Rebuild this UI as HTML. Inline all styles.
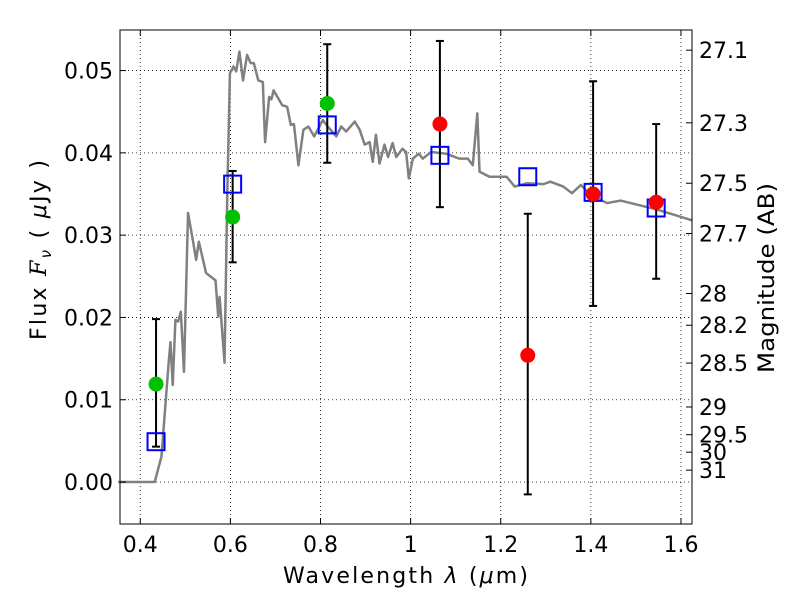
<!DOCTYPE html>
<html><head><meta charset="utf-8">
<style>
html,body{margin:0;padding:0;background:#fff;}
svg text{font-family:"DejaVu Sans","Liberation Sans",sans-serif;fill:#000;}
</style></head>
<body>
<svg id="chart" width="800" height="600" xmlns="http://www.w3.org/2000/svg"></svg>
<script>
const specLam=[0.351,0.432,0.447,0.463,0.467,0.472,0.478,0.484,0.490,0.497,0.506,0.516,0.524,0.530,0.546,0.567,0.573,0.576,0.587,0.593,0.599,0.607,0.613,0.620,0.628,0.637,0.645,0.652,0.662,0.672,0.677,0.686,0.691,0.696,0.715,0.726,0.734,0.741,0.751,0.762,0.773,0.786,0.805,0.816,0.835,0.846,0.857,0.876,0.887,0.898,0.909,0.916,0.923,0.931,0.942,0.950,0.960,0.968,0.982,0.990,0.996,1.005,1.018,1.027,1.045,1.079,1.108,1.127,1.138,1.148,1.153,1.175,1.213,1.231,1.257,1.295,1.310,1.339,1.358,1.378,1.399,1.436,1.466,1.548,1.6245];
const specFlux=[0,0,0.0031,0.0145,0.0170,0.0118,0.0197,0.0195,0.0207,0.0134,0.0327,0.0296,0.0270,0.0292,0.0254,0.0245,0.0201,0.0225,0.0145,0.0347,0.0497,0.0505,0.0499,0.0523,0.0488,0.0519,0.0509,0.0509,0.0488,0.0486,0.0413,0.0468,0.0465,0.0476,0.0458,0.0456,0.0434,0.0435,0.0385,0.0428,0.0432,0.0420,0.0440,0.0432,0.0420,0.0432,0.0426,0.0438,0.0428,0.0410,0.0413,0.0389,0.0422,0.0387,0.0410,0.0395,0.0412,0.0395,0.0405,0.0401,0.0369,0.0393,0.0399,0.0393,0.0401,0.0399,0.0393,0.0393,0.0385,0.0448,0.0377,0.0371,0.0371,0.0359,0.0363,0.0362,0.0365,0.0359,0.0351,0.0361,0.0349,0.0339,0.0342,0.0331,0.0318];
const greenLam=[0.435,0.605,0.815];
const greenFlux=[0.0119,0.0322,0.0460];
const greenErrHi=[0.0198,0.0378,0.0532];
const greenErrLo=[0.0043,0.0267,0.0388];
const redLam=[1.065,1.26,1.405,1.545];
const redFlux=[0.0435,0.0154,0.0350,0.0340];
const redErrHi=[0.0536,0.0326,0.0487,0.0435];
const redErrLo=[0.0334,-0.0015,0.0214,0.0247];
const modelLam=[0.435,0.605,0.815,1.065,1.26,1.405,1.545];
const modelFlux=[0.0049,0.0362,0.0434,0.0397,0.0371,0.0352,0.0333];
const xTicks=[0.4,0.6,0.8,1.0,1.2,1.4,1.6];
const xTickLabels=["0.4","0.6","0.8","1","1.2","1.4","1.6"];
const yTicks=[0,0.01,0.02,0.03,0.04,0.05];
const yTickLabels=["0.00","0.01","0.02","0.03","0.04","0.05"];
const magTicks=[27.1,27.3,27.5,27.7,28,28.2,28.5,29,29.5,30,31];
const magTickLabels=["27.1","27.3","27.5","27.7","28","28.2","28.5","29","29.5","30","31"];

const L=120,R=692,T=30,B=524;
const xMin=0.355,xMax=1.6245,yMin=-0.00510,yMax=0.05493;
const X=v=>L+(v-xMin)/(xMax-xMin)*(R-L);
const Y=v=>B-(v-yMin)/(yMax-yMin)*(B-T);
const magToFlux=m=>Math.pow(10,(23.9-m)/2.5);
const svg=document.getElementById('chart');
const NS='http://www.w3.org/2000/svg';
function mk(tag,attrs,parent){const e=document.createElementNS(NS,tag);for(const k in attrs)e.setAttribute(k,attrs[k]);(parent||svg).appendChild(e);return e;}

const grid=mk('g',{});


xTicks.forEach(t=>mk('line',{x1:X(t),x2:X(t),y1:T,y2:B,stroke:'#000','stroke-width':0.8,'stroke-dasharray':'1,3'},grid));
yTicks.forEach(t=>mk('line',{x1:L,x2:R,y1:Y(t),y2:Y(t),stroke:'#000','stroke-width':0.8,'stroke-dasharray':'1,3'},grid));

const sp=mk('polyline',{points:specLam.map((l,i)=>X(l)+','+Y(specFlux[i])).join(' '),fill:'none',stroke:'#808080','stroke-width':2.5,'stroke-linejoin':'round'});



function errbar(l,lo,hi,name){
  const g=mk('g',{});
  
  
  mk('line',{x1:X(l),x2:X(l),y1:Y(lo),y2:Y(hi),stroke:'#000','stroke-width':2},g);
  mk('line',{x1:X(l)-4,x2:X(l)+4,y1:Y(lo),y2:Y(lo),stroke:'#000','stroke-width':2},g);
  mk('line',{x1:X(l)-4,x2:X(l)+4,y1:Y(hi),y2:Y(hi),stroke:'#000','stroke-width':2},g);
}
greenLam.forEach((l,i)=>errbar(l,greenErrLo[i],greenErrHi[i],'green-errorbar'));
redLam.forEach((l,i)=>errbar(l,redErrLo[i],redErrHi[i],'red-errorbar'));

modelLam.forEach((l,i)=>{
  const r=mk('rect',{x:X(l)-8.5,y:Y(modelFlux[i])-8.5,width:17,height:17,fill:'none',stroke:'#0000ff','stroke-width':2});
  
  
});
greenLam.forEach((l,i)=>{
  const c=mk('circle',{cx:X(l),cy:Y(greenFlux[i]),r:7.5,fill:'#00c000'});
  
  
});
redLam.forEach((l,i)=>{
  const c=mk('circle',{cx:X(l),cy:Y(redFlux[i]),r:7.5,fill:'#ff0000'});
  
  
});

const fr=mk('rect',{x:L,y:T,width:R-L,height:B-T,fill:'none',stroke:'#000','stroke-width':1});



xTicks.forEach((t,i)=>{
  mk('line',{x1:X(t),x2:X(t),y1:B,y2:B-6,stroke:'#000'});
  mk('line',{x1:X(t),x2:X(t),y1:T,y2:T+6,stroke:'#000'});
  const tx=mk('text',{x:X(t),y:B+28,'font-size':22,'text-anchor':'middle'});
  tx.textContent=xTickLabels[i];
  
  
});
yTicks.forEach((t,i)=>{
  mk('line',{x1:L,x2:L+6,y1:Y(t),y2:Y(t),stroke:'#000'});
  const tx=mk('text',{x:L-7,y:Y(t)+8,'font-size':22,'text-anchor':'end'});
  tx.textContent=yTickLabels[i];
  
  
});
magTicks.forEach((m,i)=>{
  const y=Y(magToFlux(m));
  mk('line',{x1:R,x2:R-6,y1:y,y2:y,stroke:'#000'});
  const tx=mk('text',{x:R+7,y:y+8,'font-size':22,'text-anchor':'start'});
  tx.textContent=magTickLabels[i];
  
  
});
</script>
<div style="position:absolute;left:0;top:0;width:800px;height:600px;pointer-events:none;">
<svg width="800" height="600" xmlns="http://www.w3.org/2000/svg" style="position:absolute;left:0;top:0">
<text x="283" y="583" font-size="22" textLength="245" lengthAdjust="spacing" font-family="DejaVu Sans, Liberation Sans, sans-serif">Wavelength  <tspan font-style="italic">λ</tspan> (<tspan font-style="italic">μ</tspan>m)</text>
<text transform="translate(46,340) rotate(-90)" font-size="22" textLength="180" lengthAdjust="spacing" font-family="DejaVu Sans, Liberation Sans, sans-serif">Flux  <tspan font-style="italic" font-family="DejaVu Serif, Liberation Serif, serif">F</tspan><tspan font-style="italic" font-size="15" dy="5">ν</tspan><tspan dy="-5">  (  </tspan><tspan font-style="italic">μ</tspan>Jy )</text>
<text transform="translate(774,373) rotate(-90)" font-size="22" textLength="190" lengthAdjust="spacingAndGlyphs" font-family="DejaVu Sans, Liberation Sans, sans-serif">Magnitude (AB)</text>
</svg></div>
</body></html>
